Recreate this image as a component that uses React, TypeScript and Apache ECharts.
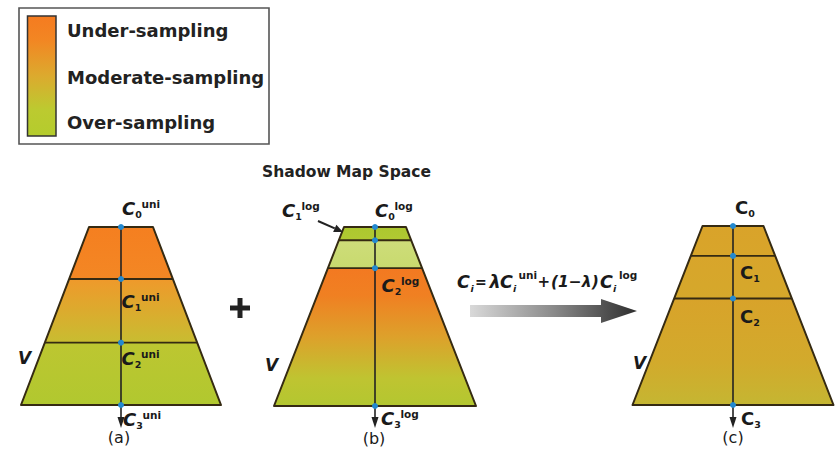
import React, { useEffect, useRef } from 'react';
import * as echarts from 'echarts';

// ---------- data ----------
const legendLabels = ['Under-sampling', 'Moderate-sampling', 'Over-sampling'];
const panelCaptions = ['(a)', '(b)', '(c)'];
const titleText = 'Shadow Map Space';
// split positions along the view depth (fraction of frustum depth), C0..C3
const splitsUniform = [0, 0.292, 0.65, 1];
const splitsLog = [0, 0.074, 0.23, 1];
const splitsPractical = [0, 0.167, 0.405, 1];
const splitIndices = ['0', '1', '2', '3'];
const superscripts = ['uni', 'log', ''];
const formulaParts = ['C', 'i', '=', 'λ', 'C', 'i', 'uni', '+', '(1−λ)', 'C', 'i', 'log'];

// ---------- layout / style ----------
const FONT = '"DejaVu Sans", Verdana, sans-serif';
const EDGE = '#352a12';
const DOT = '#2389d0';

const grad = (stops: [number, string][], horizontal = false) =>
  new echarts.graphic.LinearGradient(0, 0, horizontal ? 1 : 0, horizontal ? 0 : 1,
    stops.map(([offset, color]) => ({ offset, color })));

const panels = [
  {
    splits: splitsUniform, cx: 121, top: 227, bottom: 405, topW: 64, botW: 200, italic: true,
    fills: [
      grad([[0, '#F57F20'], [1, '#F38724']]),
      grad([[0, '#EF992B'], [1, '#C8BD31']]),
      grad([[0, '#BDC631'], [1, '#B1C82F']]),
    ],
    labels: [[122, 208], [121.5, 301], [121.5, 358], [123, 419]],
    v: [18, 358], caption: [119, 437],
  },
  {
    splits: splitsLog, cx: 375, top: 227, bottom: 406, topW: 62, botW: 202, italic: true,
    fills: [
      grad([[0, '#ACC72F'], [1, '#B1C932']]),
      grad([[0, '#CEDD7A'], [1, '#C8DA6E']]),
      grad([[0, '#F37921'], [0.2, '#F08022'], [0.5, '#DDA12B'], [0.8, '#BFC431'], [1, '#B3C730']]),
    ],
    labels: [[375, 210], [282, 210], [381.5, 285], [381, 418]],
    v: [265, 365], caption: [374, 438],
  },
  {
    splits: splitsPractical, cx: 733, top: 226, bottom: 405, topW: 61, botW: 201, italic: false,
    fills: [
      grad([[0, '#D9A32A'], [1, '#D8A52A']]),
      grad([[0, '#D8A52B'], [1, '#D5A82B']]),
      grad([[0, '#D8A32A'], [0.6, '#D2AA2C'], [1, '#C5B632']]),
    ],
    labels: [[735, 207], [740, 272], [740, 316], [741, 418]],
    v: [633, 363], caption: [733, 437],
  },
];

function txt(x: number, y: number, text: string, size: number, opts: any = {}) {
  return {
    type: 'text',
    x, y,
    silent: true,
    style: {
      text,
      fontSize: size,
      fontWeight: opts.weight ?? 'bold',
      fontStyle: opts.italic ? 'italic' : 'normal',
      fontFamily: opts.family ?? FONT,
      fill: opts.fill ?? '#1a1a1a',
      align: opts.align ?? 'left',
      verticalAlign: 'middle',
      textAlign: opts.align ?? 'left',
      textVerticalAlign: 'middle',
    },
  };
}

function cLabel(x: number, y: number, sub: string, sup: string, italic: boolean) {
  const els: any[] = [txt(x, y, 'C', 18, { italic })];
  els.push(txt(x + 13.2, y + 6.5, sub, 9.5, {}));
  if (sup) els.push(txt(x + 19.5, y - 4, sup, 10.5, {}));
  return els;
}

function buildElements() {
  const els: any[] = [];

  // legend
  els.push({ type: 'rect', shape: { x: 19, y: 8, width: 250, height: 136 }, style: { fill: '#fff', stroke: '#555', lineWidth: 1.6 } });
  els.push({
    type: 'rect', shape: { x: 27.5, y: 16, width: 28.5, height: 120 },
    style: {
      fill: grad([[0, '#F57B20'], [0.2, '#F28623'], [0.5, '#DCAA2E'], [0.78, '#BCCA30'], [1, '#B4CC2D']]),
      stroke: '#333', lineWidth: 1.5,
    },
  });
  const legendY = [30, 77, 122];
  legendLabels.forEach((l, i) => els.push(txt(67, legendY[i], l, 18, { fill: '#222' })));

  // title
  els.push(txt(262, 172, titleText, 15.5, { fill: '#222' }));

  // plus sign
  els.push({ type: 'rect', shape: { x: 230, y: 305.5, width: 20, height: 5 }, style: { fill: '#222' } });
  els.push({ type: 'rect', shape: { x: 237.5, y: 298, width: 5, height: 20 }, style: { fill: '#222' } });

  // frustums
  panels.forEach((p, pi) => {
    const at = (f: number) => {
      const y = p.top + f * (p.bottom - p.top);
      const hw = p.topW / 2 + f * (p.botW - p.topW) / 2;
      return { y, l: p.cx - hw, r: p.cx + hw };
    };
    for (let s = 0; s < p.splits.length - 1; s++) {
      const a = at(p.splits[s]);
      const b = at(p.splits[s + 1]);
      els.push({
        type: 'polygon', silent: true,
        shape: { points: [[a.l, a.y], [a.r, a.y], [b.r, b.y], [b.l, b.y]] },
        style: { fill: p.fills[s], stroke: 'none' },
      });
    }
    for (let s = 1; s < p.splits.length - 1; s++) {
      const a = at(p.splits[s]);
      els.push({ type: 'line', shape: { x1: a.l, y1: a.y, x2: a.r, y2: a.y }, style: { stroke: EDGE, lineWidth: 1.8 } });
    }
    const t = at(0), b = at(1);
    els.push({
      type: 'polygon', shape: { points: [[t.l, t.y], [t.r, t.y], [b.r, b.y], [b.l, b.y]] },
      style: { fill: 'none', stroke: EDGE, lineWidth: 2, lineJoin: 'round' },
    });
    els.push({ type: 'line', shape: { x1: p.cx, y1: t.y, x2: p.cx, y2: 420 }, style: { stroke: '#222', lineWidth: 1.6 } });
    els.push({ type: 'polygon', shape: { points: [[p.cx - 3.5, 417], [p.cx + 3.5, 417], [p.cx, 428]] }, style: { fill: '#222' } });
    p.splits.forEach((f) => {
      els.push({ type: 'circle', shape: { cx: p.cx, cy: at(f).y, r: 3 }, style: { fill: DOT } });
    });
    p.labels.forEach(([x, y], i) => {
      els.push(...cLabel(x, y, splitIndices[i], superscripts[pi], p.italic));
    });
    els.push(txt(p.v[0], p.v[1], 'V', 17, { italic: true }));
    els.push(txt(p.caption[0], p.caption[1], panelCaptions[pi], 16, { weight: 'normal', align: 'center' }));
  });

  // C1 log pointer arrow
  {
    const x1 = 318, y1 = 221, x2 = 343, y2 = 232;
    const dx = x2 - x1, dy = y2 - y1, len = Math.hypot(dx, dy);
    const ux = dx / len, uy = dy / len;
    const bx = x2 - ux * 9, by = y2 - uy * 9;
    els.push({ type: 'line', shape: { x1, y1, x2: bx, y2: by }, style: { stroke: '#222', lineWidth: 2 } });
    els.push({ type: 'polygon', shape: { points: [[x2, y2], [bx - uy * 4, by + ux * 4], [bx + uy * 4, by - ux * 4]] }, style: { fill: '#222' } });
  }

  // formula
  const fx = [457, 470.5, 475, 489.5, 500, 513, 518.5, 537.5, 551, 600, 613, 619];
  const fy = 281.5;
  formulaParts.forEach((part, i) => {
    let size = 17.5, y = fy, italic = true;
    if (part === 'i') { size = 9.5; y = fy + 6.5; }
    if (part === 'uni' || part === 'log') { size = 10.5; y = fy - 7; italic = false; }
    if (part === '=') { italic = false; size = 14; }
    if (part === '+') { italic = false; size = 15; }
    if (part === '(1−λ)') size = 15.5;
    els.push(txt(fx[i], y, part, size, { italic }));
  });

  // big gray arrow
  els.push({
    type: 'polygon',
    shape: { points: [[470, 305], [601, 305], [601, 299], [637, 311], [601, 323], [601, 317], [470, 317]] },
    style: {
      fill: grad([[0, '#d9d9d9'], [0.5, '#8a8a8a'], [1, '#2e2e2e']], true),
    },
  });

  return els;
}

export default function App() {
  const ref = useRef<HTMLDivElement>(null);
  useEffect(() => {
    if (!ref.current) return;
    const chart = echarts.init(ref.current, undefined, { renderer: 'svg' });
    chart.setOption({
      animation: false,
      backgroundColor: '#ffffff',
      graphic: { elements: buildElements() },
    });
    return () => chart.dispose();
  }, []);
  return (
    <div
      ref={ref}
      style={{ position: 'absolute', left: 0, top: 0, width: 837, height: 459, background: '#fff' }}
    />
  );
}
